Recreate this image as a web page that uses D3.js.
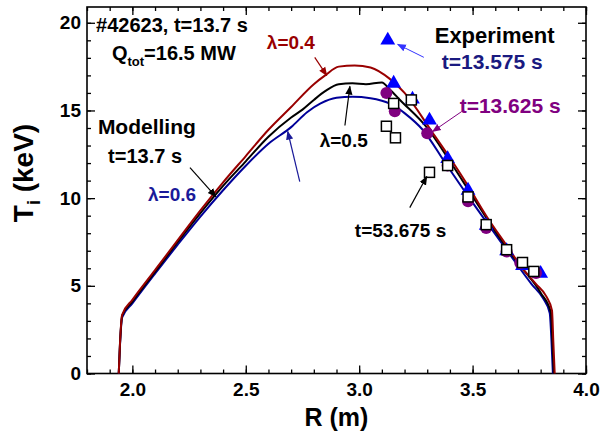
<!DOCTYPE html>
<html>
<head>
<meta charset="utf-8">
<script src="https://cdn.jsdelivr.net/npm/d3@7"></script>
<style>
  body { margin: 0; background: #fff; }
  text { font-family: "Liberation Sans", Arial, sans-serif; font-weight: bold; }
</style>
</head>
<body>
<div id="chart"></div>
<script>
// ---- data ----
// modelled Ti profiles, [R (m), Ti (keV)]
const lambda04 = [[1.94,0],[1.945,1.6],[1.955,3.35],[2.0,4.2],[2.1,5.9],[2.2,7.6],[2.3,9.3],[2.4,10.9],
  [2.5,12.4],[2.6,13.9],[2.7,15.2],[2.8,16.5],[2.85,17.0],[2.91,17.5],[2.98,17.57],[3.05,17.45],
  [3.135,16.8],[3.2,16.0],[3.32,13.8],[3.4,12.3],[3.48,10.7],[3.56,9.0],[3.65,7.3],[3.72,6.0],
  [3.78,5.1],[3.825,4.4],[3.85,3.6],[3.856,1.8],[3.862,0]];
const lambda05 = [[1.94,0],[1.945,1.55],[1.955,3.3],[2.0,4.1],[2.1,5.8],[2.2,7.5],[2.3,9.15],[2.4,10.7],
  [2.5,12.1],[2.6,13.5],[2.7,14.6],[2.75,15.05],[2.8,15.6],[2.85,16.1],[2.91,16.5],[2.97,16.55],
  [3.03,16.5],[3.1,16.6],[3.135,16.2],[3.18,15.6],[3.3,14.0],[3.4,12.1],[3.5,10.1],[3.6,8.1],
  [3.7,6.3],[3.8,4.6],[3.845,3.5],[3.852,1.8],[3.858,0]];
const lambda06 = [[1.94,0],[1.945,1.5],[1.955,3.2],[2.0,4.0],[2.1,5.7],[2.2,7.35],[2.3,8.95],[2.4,10.45],
  [2.5,11.85],[2.6,13.1],[2.7,14.05],[2.77,14.9],[2.83,15.4],[2.9,15.72],[2.97,15.78],[3.05,15.7],
  [3.1,15.55],[3.157,15.25],[3.2,14.85],[3.28,13.9],[3.38,12.0],[3.47,10.3],[3.58,8.3],[3.68,6.5],
  [3.76,5.1],[3.81,4.3],[3.84,3.45],[3.848,1.8],[3.854,0]];

// experiment, t=13.575 s (triangles)
const expR1 = [3.126, 3.152, 3.235, 3.31, 3.39, 3.48, 3.56, 3.65, 3.72, 3.80];
const expT1 = [19.06, 16.6, 15.7, 14.5, 12.3, 10.5, 8.5, 7.05, 6.2, 5.76];
// experiment, t=13.625 s (circles)
const expR2 = [3.12, 3.157, 3.30, 3.39, 3.48, 3.56, 3.65, 3.71, 3.78];
const expT2 = [16.0, 14.96, 13.7, 11.86, 9.82, 8.3, 6.96, 6.3, 5.73];
// experiment, t=53.675 s (open squares)
const expR3 = [3.12, 3.152, 3.16, 3.23, 3.31, 3.39, 3.48, 3.56, 3.65, 3.72, 3.77];
const expT3 = [14.1, 15.4, 13.44, 15.6, 11.47, 11.86, 10.07, 8.49, 7.06, 6.33, 5.82];

const xTicks = [2.0, 2.5, 3.0, 3.5, 4.0];
const yTicks = [0, 5, 10, 15, 20];

// ---- layout ----
const width = 603, height = 435;
const margin = {top: 7, right: 17, bottom: 61.5, left: 87};

const xscale = d3.scaleLinear().domain([1.8, 4.0]).range([margin.left, width - margin.right]);
const yscale = d3.scaleLinear().domain([0, 20.9]).range([height - margin.bottom, margin.top]);

const svg = d3.select("#chart").append("svg").attr("width", width).attr("height", height);

const RED = "#990000", NAVY = "#000099", BLUE = "#0000ff", PURPLE = "#800080";

// arrow heads
const defs = svg.append("defs");
[["black", "black"], ["red", RED], ["navy", "#1a1a99"], ["blue", "#3333ff"], ["purple", PURPLE]].forEach(([id, c]) => {
  defs.append("marker")
    .attr("id", "ah-" + id)
    .attr("viewBox", "0 0 10 10")
    .attr("refX", 9).attr("refY", 5)
    .attr("markerWidth", 9).attr("markerHeight", 9)
    .attr("markerUnits", "userSpaceOnUse")
    .attr("orient", "auto")
    .append("path").attr("d", "M0,1 L10,5 L0,9 Z").attr("fill", c);
});

// ---- axes: ticks inward on all four sides ----
const frame = svg.append("g");
const x0 = xscale.range()[0], x1 = xscale.range()[1];
const y0 = yscale.range()[0], y1 = yscale.range()[1];

const xMinor = d3.range(18, 41).map(d => d / 10);
const yMinor = d3.range(0, 21);

frame.append("g").attr("transform", `translate(0,${y0})`)
  .call(d3.axisBottom(xscale).tickValues(xMinor).tickSize(-4).tickFormat(""));
frame.append("g").attr("transform", `translate(0,${y0})`)
  .call(d3.axisBottom(xscale).tickValues(xTicks).tickSize(-8).tickPadding(9).tickFormat(d3.format(".1f")));
frame.append("g").attr("transform", `translate(0,${y1})`)
  .call(d3.axisTop(xscale).tickValues(xMinor).tickSize(-4).tickFormat(""));
frame.append("g").attr("transform", `translate(0,${y1})`)
  .call(d3.axisTop(xscale).tickValues(xTicks).tickSize(-8).tickFormat(""));

frame.append("g").attr("transform", `translate(${x0},0)`)
  .call(d3.axisLeft(yscale).tickValues(yMinor).tickSize(-4).tickFormat(""));
frame.append("g").attr("transform", `translate(${x0},0)`)
  .call(d3.axisLeft(yscale).tickValues(yTicks).tickSize(-8).tickPadding(6).tickFormat(d3.format("d")));
frame.append("g").attr("transform", `translate(${x1},0)`)
  .call(d3.axisRight(yscale).tickValues(yMinor).tickSize(-4).tickFormat(""));
frame.append("g").attr("transform", `translate(${x1},0)`)
  .call(d3.axisRight(yscale).tickValues(yTicks).tickSize(-8).tickFormat(""));

frame.selectAll(".domain").remove();
frame.selectAll(".tick line").attr("stroke", "black").attr("stroke-width", 1.3);
frame.selectAll(".tick text").attr("font-size", 19).attr("fill", "black")
  .attr("font-family", "'Liberation Sans', Arial, sans-serif").attr("font-weight", "bold");

svg.append("rect")
  .attr("x", x0).attr("y", y1)
  .attr("width", x1 - x0).attr("height", y0 - y1)
  .attr("fill", "none").attr("stroke", "black").attr("stroke-width", 1.6);

// axis titles
svg.append("text")
  .attr("x", (x0 + x1) / 2).attr("y", 426)
  .attr("text-anchor", "middle").attr("font-size", 25)
  .text("R (m)");

const yTitle = svg.append("text")
  .attr("transform", "translate(33,173) rotate(-90)")
  .attr("text-anchor", "middle").attr("font-size", 28);
yTitle.append("tspan").text("T");
yTitle.append("tspan").attr("font-size", 18).attr("dy", 7).text("i");
yTitle.append("tspan").attr("dy", -7).text(" (keV)");

// ---- experimental points ----
const pts = svg.append("g");
const tri = d3.symbol().type(d3.symbolTriangle).size(95);
pts.append("g").selectAll("path")
  .data(d3.zip(expR1, expT1))
  .join("path")
  .attr("d", tri)
  .attr("transform", d => `translate(${xscale(d[0])},${yscale(d[1]) + 1})`)
  .attr("fill", BLUE);

pts.append("g").selectAll("circle")
  .data(d3.zip(expR2, expT2))
  .join("circle")
  .attr("cx", d => xscale(d[0]))
  .attr("cy", d => yscale(d[1]))
  .attr("r", 6)
  .attr("fill", PURPLE);

// ---- modelled curves ----
const line = d3.line()
  .curve(d3.curveMonotoneX)
  .x(d => xscale(d[0]))
  .y(d => yscale(d[1]));

const curves = [[lambda06, NAVY], [lambda05, "black"], [lambda04, RED]];
svg.append("g").selectAll("path")
  .data(curves)
  .join("path")
  .attr("d", d => line(d[0]))
  .attr("fill", "none")
  .attr("stroke", d => d[1])
  .attr("stroke-width", 2);

pts.raise();
pts.append("g").selectAll("rect")
  .data(d3.zip(expR3, expT3))
  .join("rect")
  .attr("x", d => xscale(d[0]) - 5)
  .attr("y", d => yscale(d[1]) - 5)
  .attr("width", 10).attr("height", 10)
  .attr("fill", "white")
  .attr("stroke", "black")
  .attr("stroke-width", 1.5);

// ---- annotations (positions in data units) ----
const arrows = [
  {from: [2.804, 18.03], to: [2.857, 17.0], head: "red", color: RED, w: 1.2},
  {from: [2.937, 14.14], to: [2.959, 16.37], head: "black", color: "black", w: 1.2},
  {from: [2.738, 10.94], to: [2.685, 13.8], head: "navy", color: "#1a1a99", w: 1.2},
  {from: [3.223, 9.46], to: [3.298, 11.23], head: "black", color: "black", w: 1.2},
  {from: [2.254, 11.74], to: [2.368, 10.09], head: "black", color: "black", w: 1.2},
  {from: [3.285, 18.03], to: [3.170, 18.77], head: "blue", color: "#3333ff", w: 1},
  {from: [3.452, 14.94], to: [3.324, 13.8], head: "purple", color: PURPLE, w: 1}
];
svg.append("g").selectAll("line")
  .data(arrows)
  .join("line")
  .attr("x1", d => xscale(d.from[0])).attr("y1", d => yscale(d.from[1]))
  .attr("x2", d => xscale(d.to[0])).attr("y2", d => yscale(d.to[1]))
  .attr("stroke", d => d.color)
  .attr("stroke-width", d => d.w)
  .attr("marker-end", d => `url(#ah-${d.head})`);

const labels = [
  {at: [1.84, 19.46], text: "#42623, t=13.7 s", size: 20, color: "black"},
  {at: [2.593, 18.49], text: "\u03bb=0.4", size: 19, color: RED},
  {at: [3.333, 18.83], text: "Experiment", size: 22, color: "black"},
  {at: [3.364, 17.34], text: "t=13.575 s", size: 21, color: "#1a1a80"},
  {at: [3.443, 14.88], text: "t=13.625 s", size: 21, color: PURPLE},
  {at: [2.826, 12.89], text: "\u03bb=0.5", size: 19, color: "black"},
  {at: [2.069, 9.86], text: "\u03bb=0.6", size: 19, color: "#1a1a99"},
  {at: [2.981, 7.8], text: "t=53.675 s", size: 19, color: "black"},
  {at: [1.848, 13.63], text: "Modelling", size: 21, color: "black"},
  {at: [1.893, 12.03], text: "t=13.7 s", size: 20, color: "black"}
];
svg.append("g").selectAll("text")
  .data(labels)
  .join("text")
  .attr("x", d => xscale(d.at[0]))
  .attr("y", d => yscale(d.at[1]))
  .attr("font-size", d => d.size)
  .attr("fill", d => d.color)
  .text(d => d.text);

// Q_tot with subscript
const q = svg.append("text")
  .attr("x", xscale(1.91)).attr("y", yscale(17.86))
  .attr("font-size", 20);
q.append("tspan").text("Q");
q.append("tspan").attr("font-size", 13).attr("dy", 6).text("tot");
q.append("tspan").attr("dy", -6).text("=16.5 MW");
</script>
</body>
</html>
